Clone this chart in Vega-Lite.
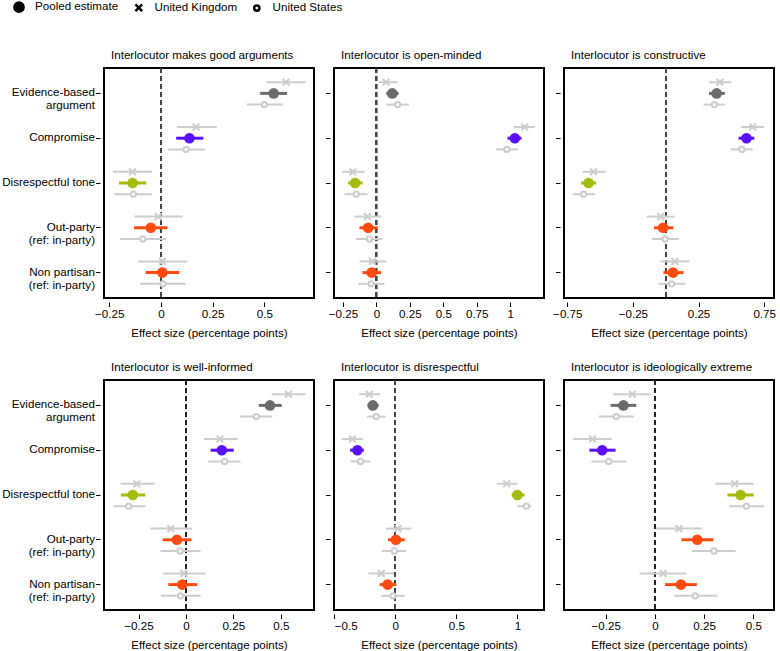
{
  "$schema": "https://vega.github.io/schema/vega-lite/v6.json",
  "padding": {"left": 0, "top": 1, "right": 2, "bottom": 1},
  "background": "white",
  "data": {"name": "effects"},
  "datasets": {
    "effects": [
      {"outcome": "good arguments", "treatment": "Evidence-based argument", "series": "Pooled estimate", "est": 0.545, "lo": 0.48, "hi": 0.61},
      {"outcome": "good arguments", "treatment": "Evidence-based argument", "series": "United Kingdom", "est": 0.605, "lo": 0.51, "hi": 0.70},
      {"outcome": "good arguments", "treatment": "Evidence-based argument", "series": "United States", "est": 0.50, "lo": 0.415, "hi": 0.59},
      {"outcome": "good arguments", "treatment": "Compromise", "series": "Pooled estimate", "est": 0.138, "lo": 0.074, "hi": 0.205},
      {"outcome": "good arguments", "treatment": "Compromise", "series": "United Kingdom", "est": 0.17, "lo": 0.077, "hi": 0.27},
      {"outcome": "good arguments", "treatment": "Compromise", "series": "United States", "est": 0.122, "lo": 0.033, "hi": 0.213},
      {"outcome": "good arguments", "treatment": "Disrespectful tone", "series": "Pooled estimate", "est": -0.137, "lo": -0.202, "hi": -0.071},
      {"outcome": "good arguments", "treatment": "Disrespectful tone", "series": "United Kingdom", "est": -0.137, "lo": -0.232, "hi": -0.042},
      {"outcome": "good arguments", "treatment": "Disrespectful tone", "series": "United States", "est": -0.133, "lo": -0.225, "hi": -0.044},
      {"outcome": "good arguments", "treatment": "Out-party", "series": "Pooled estimate", "est": -0.049, "lo": -0.13, "hi": 0.031},
      {"outcome": "good arguments", "treatment": "Out-party", "series": "United Kingdom", "est": -0.013, "lo": -0.128, "hi": 0.105},
      {"outcome": "good arguments", "treatment": "Out-party", "series": "United States", "est": -0.087, "lo": -0.197, "hi": 0.025},
      {"outcome": "good arguments", "treatment": "Non partisan", "series": "Pooled estimate", "est": 0.007, "lo": -0.074, "hi": 0.089},
      {"outcome": "good arguments", "treatment": "Non partisan", "series": "United Kingdom", "est": 0.007, "lo": -0.109, "hi": 0.127},
      {"outcome": "good arguments", "treatment": "Non partisan", "series": "United States", "est": 0.01, "lo": -0.10, "hi": 0.12},

      {"outcome": "open-minded", "treatment": "Evidence-based argument", "series": "Pooled estimate", "est": 0.119, "lo": 0.074, "hi": 0.166},
      {"outcome": "open-minded", "treatment": "Evidence-based argument", "series": "United Kingdom", "est": 0.072, "lo": 0.017, "hi": 0.156},
      {"outcome": "open-minded", "treatment": "Evidence-based argument", "series": "United States", "est": 0.159, "lo": 0.077, "hi": 0.243},
      {"outcome": "open-minded", "treatment": "Compromise", "series": "Pooled estimate", "est": 1.035, "lo": 0.98, "hi": 1.084},
      {"outcome": "open-minded", "treatment": "Compromise", "series": "United Kingdom", "est": 1.109, "lo": 1.027, "hi": 1.183},
      {"outcome": "open-minded", "treatment": "Compromise", "series": "United States", "est": 0.975, "lo": 0.893, "hi": 1.06},
      {"outcome": "open-minded", "treatment": "Disrespectful tone", "series": "Pooled estimate", "est": -0.159, "lo": -0.211, "hi": -0.104},
      {"outcome": "open-minded", "treatment": "Disrespectful tone", "series": "United Kingdom", "est": -0.176, "lo": -0.256, "hi": -0.089},
      {"outcome": "open-minded", "treatment": "Disrespectful tone", "series": "United States", "est": -0.151, "lo": -0.238, "hi": -0.067},
      {"outcome": "open-minded", "treatment": "Out-party", "series": "Pooled estimate", "est": -0.062, "lo": -0.127, "hi": 0.01},
      {"outcome": "open-minded", "treatment": "Out-party", "series": "United Kingdom", "est": -0.067, "lo": -0.166, "hi": 0.035},
      {"outcome": "open-minded", "treatment": "Out-party", "series": "United States", "est": -0.052, "lo": -0.154, "hi": 0.047},
      {"outcome": "open-minded", "treatment": "Non partisan", "series": "Pooled estimate", "est": -0.035, "lo": -0.104, "hi": 0.035},
      {"outcome": "open-minded", "treatment": "Non partisan", "series": "United Kingdom", "est": -0.03, "lo": -0.127, "hi": 0.074},
      {"outcome": "open-minded", "treatment": "Non partisan", "series": "United States", "est": -0.04, "lo": -0.136, "hi": 0.06},

      {"outcome": "constructive", "treatment": "Evidence-based argument", "series": "Pooled estimate", "est": 0.388, "lo": 0.33, "hi": 0.45},
      {"outcome": "constructive", "treatment": "Evidence-based argument", "series": "United Kingdom", "est": 0.413, "lo": 0.33, "hi": 0.50},
      {"outcome": "constructive", "treatment": "Evidence-based argument", "series": "United States", "est": 0.37, "lo": 0.288, "hi": 0.45},
      {"outcome": "constructive", "treatment": "Compromise", "series": "Pooled estimate", "est": 0.615, "lo": 0.555, "hi": 0.675},
      {"outcome": "constructive", "treatment": "Compromise", "series": "United Kingdom", "est": 0.663, "lo": 0.575, "hi": 0.75},
      {"outcome": "constructive", "treatment": "Compromise", "series": "United States", "est": 0.58, "lo": 0.495, "hi": 0.663},
      {"outcome": "constructive", "treatment": "Disrespectful tone", "series": "Pooled estimate", "est": -0.588, "lo": -0.645, "hi": -0.53},
      {"outcome": "constructive", "treatment": "Disrespectful tone", "series": "United Kingdom", "est": -0.55, "lo": -0.633, "hi": -0.458},
      {"outcome": "constructive", "treatment": "Disrespectful tone", "series": "United States", "est": -0.625, "lo": -0.708, "hi": -0.538},
      {"outcome": "constructive", "treatment": "Out-party", "series": "Pooled estimate", "est": -0.02, "lo": -0.09, "hi": 0.058},
      {"outcome": "constructive", "treatment": "Out-party", "series": "United Kingdom", "est": -0.038, "lo": -0.145, "hi": 0.068},
      {"outcome": "constructive", "treatment": "Out-party", "series": "United States", "est": -0.005, "lo": -0.105, "hi": 0.10},
      {"outcome": "constructive", "treatment": "Non partisan", "series": "Pooled estimate", "est": 0.055, "lo": -0.018, "hi": 0.135},
      {"outcome": "constructive", "treatment": "Non partisan", "series": "United Kingdom", "est": 0.07, "lo": -0.038, "hi": 0.18},
      {"outcome": "constructive", "treatment": "Non partisan", "series": "United States", "est": 0.045, "lo": -0.055, "hi": 0.15},

      {"outcome": "well-informed", "treatment": "Evidence-based argument", "series": "Pooled estimate", "est": 0.443, "lo": 0.384, "hi": 0.505},
      {"outcome": "well-informed", "treatment": "Evidence-based argument", "series": "United Kingdom", "est": 0.54, "lo": 0.452, "hi": 0.63},
      {"outcome": "well-informed", "treatment": "Evidence-based argument", "series": "United States", "est": 0.371, "lo": 0.286, "hi": 0.455},
      {"outcome": "well-informed", "treatment": "Compromise", "series": "Pooled estimate", "est": 0.189, "lo": 0.13, "hi": 0.252},
      {"outcome": "well-informed", "treatment": "Compromise", "series": "United Kingdom", "est": 0.179, "lo": 0.095, "hi": 0.273},
      {"outcome": "well-informed", "treatment": "Compromise", "series": "United States", "est": 0.204, "lo": 0.118, "hi": 0.288},
      {"outcome": "well-informed", "treatment": "Disrespectful tone", "series": "Pooled estimate", "est": -0.28, "lo": -0.343, "hi": -0.214},
      {"outcome": "well-informed", "treatment": "Disrespectful tone", "series": "United Kingdom", "est": -0.259, "lo": -0.345, "hi": -0.164},
      {"outcome": "well-informed", "treatment": "Disrespectful tone", "series": "United States", "est": -0.302, "lo": -0.382, "hi": -0.214},
      {"outcome": "well-informed", "treatment": "Out-party", "series": "Pooled estimate", "est": -0.048, "lo": -0.123, "hi": 0.029},
      {"outcome": "well-informed", "treatment": "Out-party", "series": "United Kingdom", "est": -0.08, "lo": -0.188, "hi": 0.032},
      {"outcome": "well-informed", "treatment": "Out-party", "series": "United States", "est": -0.03, "lo": -0.134, "hi": 0.077},
      {"outcome": "well-informed", "treatment": "Non partisan", "series": "Pooled estimate", "est": -0.02, "lo": -0.093, "hi": 0.059},
      {"outcome": "well-informed", "treatment": "Non partisan", "series": "United Kingdom", "est": -0.011, "lo": -0.12, "hi": 0.102},
      {"outcome": "well-informed", "treatment": "Non partisan", "series": "United States", "est": -0.029, "lo": -0.132, "hi": 0.077},

      {"outcome": "disrespectful", "treatment": "Evidence-based argument", "series": "Pooled estimate", "est": -0.184, "lo": -0.227, "hi": -0.137},
      {"outcome": "disrespectful", "treatment": "Evidence-based argument", "series": "United Kingdom", "est": -0.214, "lo": -0.296, "hi": -0.123},
      {"outcome": "disrespectful", "treatment": "Evidence-based argument", "series": "United States", "est": -0.156, "lo": -0.233, "hi": -0.079},
      {"outcome": "disrespectful", "treatment": "Compromise", "series": "Pooled estimate", "est": -0.31, "lo": -0.37, "hi": -0.258},
      {"outcome": "disrespectful", "treatment": "Compromise", "series": "United Kingdom", "est": -0.351, "lo": -0.438, "hi": -0.266},
      {"outcome": "disrespectful", "treatment": "Compromise", "series": "United States", "est": -0.285, "lo": -0.364, "hi": -0.205},
      {"outcome": "disrespectful", "treatment": "Disrespectful tone", "series": "Pooled estimate", "est": 1.0, "lo": 0.953, "hi": 1.058},
      {"outcome": "disrespectful", "treatment": "Disrespectful tone", "series": "United Kingdom", "est": 0.912, "lo": 0.83, "hi": 1.0},
      {"outcome": "disrespectful", "treatment": "Disrespectful tone", "series": "United States", "est": 1.073, "lo": 1.0, "hi": 1.114},
      {"outcome": "disrespectful", "treatment": "Out-party", "series": "Pooled estimate", "est": 0.005, "lo": -0.06, "hi": 0.077},
      {"outcome": "disrespectful", "treatment": "Out-party", "series": "United Kingdom", "est": 0.022, "lo": -0.077, "hi": 0.132},
      {"outcome": "disrespectful", "treatment": "Out-party", "series": "United States", "est": -0.008, "lo": -0.11, "hi": 0.088},
      {"outcome": "disrespectful", "treatment": "Non partisan", "series": "Pooled estimate", "est": -0.063, "lo": -0.129, "hi": 0.008},
      {"outcome": "disrespectful", "treatment": "Non partisan", "series": "United Kingdom", "est": -0.115, "lo": -0.219, "hi": -0.011},
      {"outcome": "disrespectful", "treatment": "Non partisan", "series": "United States", "est": -0.019, "lo": -0.115, "hi": 0.077},

      {"outcome": "ideologically extreme", "treatment": "Evidence-based argument", "series": "Pooled estimate", "est": -0.16, "lo": -0.225, "hi": -0.095},
      {"outcome": "ideologically extreme", "treatment": "Evidence-based argument", "series": "United Kingdom", "est": -0.115, "lo": -0.212, "hi": -0.02},
      {"outcome": "ideologically extreme", "treatment": "Evidence-based argument", "series": "United States", "est": -0.197, "lo": -0.285, "hi": -0.107},
      {"outcome": "ideologically extreme", "treatment": "Compromise", "series": "Pooled estimate", "est": -0.268, "lo": -0.333, "hi": -0.2},
      {"outcome": "ideologically extreme", "treatment": "Compromise", "series": "United Kingdom", "est": -0.317, "lo": -0.415, "hi": -0.22},
      {"outcome": "ideologically extreme", "treatment": "Compromise", "series": "United States", "est": -0.235, "lo": -0.323, "hi": -0.145},
      {"outcome": "ideologically extreme", "treatment": "Disrespectful tone", "series": "Pooled estimate", "est": 0.435, "lo": 0.368, "hi": 0.502},
      {"outcome": "ideologically extreme", "treatment": "Disrespectful tone", "series": "United Kingdom", "est": 0.405, "lo": 0.308, "hi": 0.502},
      {"outcome": "ideologically extreme", "treatment": "Disrespectful tone", "series": "United States", "est": 0.465, "lo": 0.377, "hi": 0.555},
      {"outcome": "ideologically extreme", "treatment": "Out-party", "series": "Pooled estimate", "est": 0.215, "lo": 0.135, "hi": 0.297},
      {"outcome": "ideologically extreme", "treatment": "Out-party", "series": "United Kingdom", "est": 0.122, "lo": 0.005, "hi": 0.238},
      {"outcome": "ideologically extreme", "treatment": "Out-party", "series": "United States", "est": 0.30, "lo": 0.188, "hi": 0.41},
      {"outcome": "ideologically extreme", "treatment": "Non partisan", "series": "Pooled estimate", "est": 0.132, "lo": 0.052, "hi": 0.213},
      {"outcome": "ideologically extreme", "treatment": "Non partisan", "series": "United Kingdom", "est": 0.042, "lo": -0.078, "hi": 0.16},
      {"outcome": "ideologically extreme", "treatment": "Non partisan", "series": "United States", "est": 0.205, "lo": 0.097, "hi": 0.317}
    ]
  },
  "columns": 3,
  "bounds": "flush",
  "spacing": {"row": 82, "column": 20},
  "concat": [
    {
      "width": 210, "height": 230,
      "title": "Interlocutor makes good arguments",
      "transform": [{"filter": "datum.outcome === 'good arguments'"}],
      "layer": [
        {"mark": {"type": "rule", "strokeDash": [5, 3], "color": "#444444", "strokeWidth": 1.3},
         "encoding": {"x": {"datum": 0, "type": "quantitative", "scale": {"domain": [-0.275, 0.74], "nice": false, "zero": false},
           "axis": {"title": "Effect size (percentage points)", "values": [-0.25, 0, 0.25, 0.5], "format": ".2~f"}}}},
        {"mark": {"type": "point", "filled": false, "opacity": 0, "strokeWidth": 2.5},
         "encoding": {"x": {"field": "est", "type": "quantitative"},
           "y": {"field": "treatment", "type": "nominal", "sort": ["Evidence-based argument", "Compromise", "Disrespectful tone", "Out-party", "Non partisan"], "scale": {"paddingInner": 0, "paddingOuter": 0.067},
             "axis": {"title": null, "labelExpr": "datum.value === 'Evidence-based argument' ? ['Evidence-based', 'argument'] : datum.value === 'Out-party' ? ['Out-party', '(ref: in-party)'] : datum.value === 'Non partisan' ? ['Non partisan', '(ref: in-party)'] : datum.label"}},
           "yOffset": {"field": "series", "type": "nominal", "scale": {"type": "point", "padding": 2, "domain": ["United Kingdom", "Pooled estimate", "United States"]}},
           "shape": {"field": "series", "type": "nominal",
             "scale": {"domain": ["Pooled estimate", "United Kingdom", "United States"],
               "range": ["M1,0A1,1 0 1,1 -1,0A1,1 0 1,1 1,0M0.75,0A0.75,0.75 0 1,1 -0.75,0A0.75,0.75 0 1,1 0.75,0M0.5,0A0.5,0.5 0 1,1 -0.5,0A0.5,0.5 0 1,1 0.5,0M0.25,0A0.25,0.25 0 1,1 -0.25,0A0.25,0.25 0 1,1 0.25,0", "M-1,-1L1,1M-1,1L1,-1", "circle"]},
             "legend": {"title": null, "orient": "none", "legendX": -91, "legendY": -67, "direction": "horizontal", "labelFontSize": 11.6, "labelOffset": 10, "columnPadding": 11, "symbolOpacity": 1, "symbolStrokeWidth": 2.5}},
           "size": {"field": "series", "type": "nominal", "scale": {"type": "ordinal", "domain": ["Pooled estimate", "United Kingdom", "United States"], "range": [85, 45, 28]}},
           "stroke": {"field": "series", "type": "nominal", "scale": {"domain": ["Pooled estimate", "United Kingdom", "United States"], "range": ["#000000", "#000000", "#000000"]}}}},
        {"transform": [{"filter": "datum.series !== 'Pooled estimate'"}],
         "mark": {"type": "rule", "color": "#cccccc", "strokeWidth": 2},
         "encoding": {"x": {"field": "lo", "type": "quantitative"}, "x2": {"field": "hi"},
           "y": {"field": "treatment", "type": "nominal", "sort": ["Evidence-based argument", "Compromise", "Disrespectful tone", "Out-party", "Non partisan"]},
           "yOffset": {"field": "series", "type": "nominal"}}},
        {"transform": [{"filter": "datum.series === 'United Kingdom'"}],
         "mark": {"type": "point", "shape": "M-1,-1L1,1M-1,1L1,-1", "size": 45, "filled": false, "stroke": "#cccccc", "strokeWidth": 2, "opacity": 1},
         "encoding": {"x": {"field": "est", "type": "quantitative"},
           "y": {"field": "treatment", "type": "nominal", "sort": ["Evidence-based argument", "Compromise", "Disrespectful tone", "Out-party", "Non partisan"]},
           "yOffset": {"field": "series", "type": "nominal"}}},
        {"transform": [{"filter": "datum.series === 'United States'"}],
         "mark": {"type": "point", "shape": "circle", "size": 28, "filled": true, "fill": "#ffffff", "stroke": "#cccccc", "strokeWidth": 2, "opacity": 1},
         "encoding": {"x": {"field": "est", "type": "quantitative"},
           "y": {"field": "treatment", "type": "nominal", "sort": ["Evidence-based argument", "Compromise", "Disrespectful tone", "Out-party", "Non partisan"]},
           "yOffset": {"field": "series", "type": "nominal"}}},
        {"transform": [{"filter": "datum.series === 'Pooled estimate'"}],
         "mark": {"type": "rule", "strokeWidth": 3},
         "encoding": {"x": {"field": "lo", "type": "quantitative"}, "x2": {"field": "hi"},
           "y": {"field": "treatment", "type": "nominal", "sort": ["Evidence-based argument", "Compromise", "Disrespectful tone", "Out-party", "Non partisan"]},
           "yOffset": {"field": "series", "type": "nominal"},
           "color": {"field": "treatment", "type": "nominal", "scale": {"domain": ["Evidence-based argument", "Compromise", "Disrespectful tone", "Out-party", "Non partisan"], "range": ["#6b6b6b", "#5a0fff", "#a4ba0c", "#ff4a10", "#ff4a10"]}, "legend": null}}},
        {"transform": [{"filter": "datum.series === 'Pooled estimate'"}],
         "mark": {"type": "point", "shape": "circle", "size": 113, "filled": true, "opacity": 1, "strokeWidth": 0},
         "encoding": {"x": {"field": "est", "type": "quantitative"},
           "y": {"field": "treatment", "type": "nominal", "sort": ["Evidence-based argument", "Compromise", "Disrespectful tone", "Out-party", "Non partisan"]},
           "yOffset": {"field": "series", "type": "nominal"},
           "color": {"field": "treatment", "type": "nominal", "legend": null}}}
      ]
    },
    {
      "width": 210, "height": 230,
      "title": "Interlocutor is open-minded",
      "transform": [{"filter": "datum.outcome === 'open-minded'"}],
      "layer": [
        {"mark": {"type": "rule", "strokeDash": [5, 3], "color": "#444444", "strokeWidth": 1.3},
         "encoding": {"x": {"datum": 0, "type": "quantitative", "scale": {"domain": [-0.317, 1.253], "nice": false, "zero": false},
           "axis": {"title": "Effect size (percentage points)", "values": [-0.25, 0, 0.25, 0.5, 0.75, 1], "format": ".2~f"}}}},
        {"transform": [{"filter": "datum.series !== 'Pooled estimate'"}],
         "mark": {"type": "rule", "color": "#cccccc", "strokeWidth": 2},
         "encoding": {"x": {"field": "lo", "type": "quantitative"}, "x2": {"field": "hi"},
           "y": {"field": "treatment", "type": "nominal", "sort": ["Evidence-based argument", "Compromise", "Disrespectful tone", "Out-party", "Non partisan"], "scale": {"paddingInner": 0, "paddingOuter": 0.067}, "axis": {"title": null, "labels": false}},
           "yOffset": {"field": "series", "type": "nominal", "scale": {"type": "point", "padding": 2, "domain": ["United Kingdom", "Pooled estimate", "United States"]}}}},
        {"transform": [{"filter": "datum.series === 'United Kingdom'"}],
         "mark": {"type": "point", "shape": "M-1,-1L1,1M-1,1L1,-1", "size": 45, "filled": false, "stroke": "#cccccc", "strokeWidth": 2, "opacity": 1},
         "encoding": {"x": {"field": "est", "type": "quantitative"},
           "y": {"field": "treatment", "type": "nominal", "sort": ["Evidence-based argument", "Compromise", "Disrespectful tone", "Out-party", "Non partisan"]},
           "yOffset": {"field": "series", "type": "nominal"}}},
        {"transform": [{"filter": "datum.series === 'United States'"}],
         "mark": {"type": "point", "shape": "circle", "size": 28, "filled": true, "fill": "#ffffff", "stroke": "#cccccc", "strokeWidth": 2, "opacity": 1},
         "encoding": {"x": {"field": "est", "type": "quantitative"},
           "y": {"field": "treatment", "type": "nominal", "sort": ["Evidence-based argument", "Compromise", "Disrespectful tone", "Out-party", "Non partisan"]},
           "yOffset": {"field": "series", "type": "nominal"}}},
        {"transform": [{"filter": "datum.series === 'Pooled estimate'"}],
         "mark": {"type": "rule", "strokeWidth": 3},
         "encoding": {"x": {"field": "lo", "type": "quantitative"}, "x2": {"field": "hi"},
           "y": {"field": "treatment", "type": "nominal", "sort": ["Evidence-based argument", "Compromise", "Disrespectful tone", "Out-party", "Non partisan"]},
           "yOffset": {"field": "series", "type": "nominal"},
           "color": {"field": "treatment", "type": "nominal", "legend": null}}},
        {"transform": [{"filter": "datum.series === 'Pooled estimate'"}],
         "mark": {"type": "point", "shape": "circle", "size": 113, "filled": true, "opacity": 1, "strokeWidth": 0},
         "encoding": {"x": {"field": "est", "type": "quantitative"},
           "y": {"field": "treatment", "type": "nominal", "sort": ["Evidence-based argument", "Compromise", "Disrespectful tone", "Out-party", "Non partisan"]},
           "yOffset": {"field": "series", "type": "nominal"},
           "color": {"field": "treatment", "type": "nominal", "legend": null}}}
      ]
    },
    {
      "width": 210, "height": 230,
      "title": "Interlocutor is constructive",
      "transform": [{"filter": "datum.outcome === 'constructive'"}],
      "layer": [
        {"mark": {"type": "rule", "strokeDash": [5, 3], "color": "#444444", "strokeWidth": 1.3},
         "encoding": {"x": {"datum": 0, "type": "quantitative", "scale": {"domain": [-0.775, 0.825], "nice": false, "zero": false},
           "axis": {"title": "Effect size (percentage points)", "values": [-0.75, -0.5, -0.25, 0, 0.25, 0.5, 0.75], "format": ".2~f"}}}},
        {"transform": [{"filter": "datum.series !== 'Pooled estimate'"}],
         "mark": {"type": "rule", "color": "#cccccc", "strokeWidth": 2},
         "encoding": {"x": {"field": "lo", "type": "quantitative"}, "x2": {"field": "hi"},
           "y": {"field": "treatment", "type": "nominal", "sort": ["Evidence-based argument", "Compromise", "Disrespectful tone", "Out-party", "Non partisan"], "scale": {"paddingInner": 0, "paddingOuter": 0.067}, "axis": {"title": null, "labels": false}},
           "yOffset": {"field": "series", "type": "nominal", "scale": {"type": "point", "padding": 2, "domain": ["United Kingdom", "Pooled estimate", "United States"]}}}},
        {"transform": [{"filter": "datum.series === 'United Kingdom'"}],
         "mark": {"type": "point", "shape": "M-1,-1L1,1M-1,1L1,-1", "size": 45, "filled": false, "stroke": "#cccccc", "strokeWidth": 2, "opacity": 1},
         "encoding": {"x": {"field": "est", "type": "quantitative"},
           "y": {"field": "treatment", "type": "nominal", "sort": ["Evidence-based argument", "Compromise", "Disrespectful tone", "Out-party", "Non partisan"]},
           "yOffset": {"field": "series", "type": "nominal"}}},
        {"transform": [{"filter": "datum.series === 'United States'"}],
         "mark": {"type": "point", "shape": "circle", "size": 28, "filled": true, "fill": "#ffffff", "stroke": "#cccccc", "strokeWidth": 2, "opacity": 1},
         "encoding": {"x": {"field": "est", "type": "quantitative"},
           "y": {"field": "treatment", "type": "nominal", "sort": ["Evidence-based argument", "Compromise", "Disrespectful tone", "Out-party", "Non partisan"]},
           "yOffset": {"field": "series", "type": "nominal"}}},
        {"transform": [{"filter": "datum.series === 'Pooled estimate'"}],
         "mark": {"type": "rule", "strokeWidth": 3},
         "encoding": {"x": {"field": "lo", "type": "quantitative"}, "x2": {"field": "hi"},
           "y": {"field": "treatment", "type": "nominal", "sort": ["Evidence-based argument", "Compromise", "Disrespectful tone", "Out-party", "Non partisan"]},
           "yOffset": {"field": "series", "type": "nominal"},
           "color": {"field": "treatment", "type": "nominal", "legend": null}}},
        {"transform": [{"filter": "datum.series === 'Pooled estimate'"}],
         "mark": {"type": "point", "shape": "circle", "size": 113, "filled": true, "opacity": 1, "strokeWidth": 0},
         "encoding": {"x": {"field": "est", "type": "quantitative"},
           "y": {"field": "treatment", "type": "nominal", "sort": ["Evidence-based argument", "Compromise", "Disrespectful tone", "Out-party", "Non partisan"]},
           "yOffset": {"field": "series", "type": "nominal"},
           "color": {"field": "treatment", "type": "nominal", "legend": null}}}
      ]
    },
    {
      "width": 210, "height": 230,
      "title": "Interlocutor is well-informed",
      "transform": [{"filter": "datum.outcome === 'well-informed'"}],
      "layer": [
        {"mark": {"type": "rule", "strokeDash": [5, 3], "color": "#222222", "strokeWidth": 1.2},
         "encoding": {"x": {"datum": 0, "type": "quantitative", "scale": {"domain": [-0.432, 0.675], "nice": false, "zero": false},
           "axis": {"title": "Effect size (percentage points)", "values": [-0.25, 0, 0.25, 0.5], "format": ".2~f"}}}},
        {"transform": [{"filter": "datum.series !== 'Pooled estimate'"}],
         "mark": {"type": "rule", "color": "#cccccc", "strokeWidth": 2},
         "encoding": {"x": {"field": "lo", "type": "quantitative"}, "x2": {"field": "hi"},
           "y": {"field": "treatment", "type": "nominal", "sort": ["Evidence-based argument", "Compromise", "Disrespectful tone", "Out-party", "Non partisan"], "scale": {"paddingInner": 0, "paddingOuter": 0.067},
             "axis": {"title": null, "labelExpr": "datum.value === 'Evidence-based argument' ? ['Evidence-based', 'argument'] : datum.value === 'Out-party' ? ['Out-party', '(ref: in-party)'] : datum.value === 'Non partisan' ? ['Non partisan', '(ref: in-party)'] : datum.label"}},
           "yOffset": {"field": "series", "type": "nominal", "scale": {"type": "point", "padding": 2, "domain": ["United Kingdom", "Pooled estimate", "United States"]}}}},
        {"transform": [{"filter": "datum.series === 'United Kingdom'"}],
         "mark": {"type": "point", "shape": "M-1,-1L1,1M-1,1L1,-1", "size": 45, "filled": false, "stroke": "#cccccc", "strokeWidth": 2, "opacity": 1},
         "encoding": {"x": {"field": "est", "type": "quantitative"},
           "y": {"field": "treatment", "type": "nominal", "sort": ["Evidence-based argument", "Compromise", "Disrespectful tone", "Out-party", "Non partisan"]},
           "yOffset": {"field": "series", "type": "nominal"}}},
        {"transform": [{"filter": "datum.series === 'United States'"}],
         "mark": {"type": "point", "shape": "circle", "size": 28, "filled": true, "fill": "#ffffff", "stroke": "#cccccc", "strokeWidth": 2, "opacity": 1},
         "encoding": {"x": {"field": "est", "type": "quantitative"},
           "y": {"field": "treatment", "type": "nominal", "sort": ["Evidence-based argument", "Compromise", "Disrespectful tone", "Out-party", "Non partisan"]},
           "yOffset": {"field": "series", "type": "nominal"}}},
        {"transform": [{"filter": "datum.series === 'Pooled estimate'"}],
         "mark": {"type": "rule", "strokeWidth": 3},
         "encoding": {"x": {"field": "lo", "type": "quantitative"}, "x2": {"field": "hi"},
           "y": {"field": "treatment", "type": "nominal", "sort": ["Evidence-based argument", "Compromise", "Disrespectful tone", "Out-party", "Non partisan"]},
           "yOffset": {"field": "series", "type": "nominal"},
           "color": {"field": "treatment", "type": "nominal", "legend": null}}},
        {"transform": [{"filter": "datum.series === 'Pooled estimate'"}],
         "mark": {"type": "point", "shape": "circle", "size": 113, "filled": true, "opacity": 1, "strokeWidth": 0},
         "encoding": {"x": {"field": "est", "type": "quantitative"},
           "y": {"field": "treatment", "type": "nominal", "sort": ["Evidence-based argument", "Compromise", "Disrespectful tone", "Out-party", "Non partisan"]},
           "yOffset": {"field": "series", "type": "nominal"},
           "color": {"field": "treatment", "type": "nominal", "legend": null}}}
      ]
    },
    {
      "width": 210, "height": 230,
      "title": "Interlocutor is disrespectful",
      "transform": [{"filter": "datum.outcome === 'disrespectful'"}],
      "layer": [
        {"mark": {"type": "rule", "strokeDash": [5, 3], "color": "#444444", "strokeWidth": 1.3},
         "encoding": {"x": {"datum": 0, "type": "quantitative", "scale": {"domain": [-0.502, 1.218], "nice": false, "zero": false},
           "axis": {"title": "Effect size (percentage points)", "values": [-0.5, -0.25, 0, 0.25, 0.5, 0.75, 1], "format": ".2~f"}}}},
        {"transform": [{"filter": "datum.series !== 'Pooled estimate'"}],
         "mark": {"type": "rule", "color": "#cccccc", "strokeWidth": 2},
         "encoding": {"x": {"field": "lo", "type": "quantitative"}, "x2": {"field": "hi"},
           "y": {"field": "treatment", "type": "nominal", "sort": ["Evidence-based argument", "Compromise", "Disrespectful tone", "Out-party", "Non partisan"], "scale": {"paddingInner": 0, "paddingOuter": 0.067}, "axis": {"title": null, "labels": false}},
           "yOffset": {"field": "series", "type": "nominal", "scale": {"type": "point", "padding": 2, "domain": ["United Kingdom", "Pooled estimate", "United States"]}}}},
        {"transform": [{"filter": "datum.series === 'United Kingdom'"}],
         "mark": {"type": "point", "shape": "M-1,-1L1,1M-1,1L1,-1", "size": 45, "filled": false, "stroke": "#cccccc", "strokeWidth": 2, "opacity": 1},
         "encoding": {"x": {"field": "est", "type": "quantitative"},
           "y": {"field": "treatment", "type": "nominal", "sort": ["Evidence-based argument", "Compromise", "Disrespectful tone", "Out-party", "Non partisan"]},
           "yOffset": {"field": "series", "type": "nominal"}}},
        {"transform": [{"filter": "datum.series === 'United States'"}],
         "mark": {"type": "point", "shape": "circle", "size": 28, "filled": true, "fill": "#ffffff", "stroke": "#cccccc", "strokeWidth": 2, "opacity": 1},
         "encoding": {"x": {"field": "est", "type": "quantitative"},
           "y": {"field": "treatment", "type": "nominal", "sort": ["Evidence-based argument", "Compromise", "Disrespectful tone", "Out-party", "Non partisan"]},
           "yOffset": {"field": "series", "type": "nominal"}}},
        {"transform": [{"filter": "datum.series === 'Pooled estimate'"}],
         "mark": {"type": "rule", "strokeWidth": 3},
         "encoding": {"x": {"field": "lo", "type": "quantitative"}, "x2": {"field": "hi"},
           "y": {"field": "treatment", "type": "nominal", "sort": ["Evidence-based argument", "Compromise", "Disrespectful tone", "Out-party", "Non partisan"]},
           "yOffset": {"field": "series", "type": "nominal"},
           "color": {"field": "treatment", "type": "nominal", "legend": null}}},
        {"transform": [{"filter": "datum.series === 'Pooled estimate'"}],
         "mark": {"type": "point", "shape": "circle", "size": 113, "filled": true, "opacity": 1, "strokeWidth": 0},
         "encoding": {"x": {"field": "est", "type": "quantitative"},
           "y": {"field": "treatment", "type": "nominal", "sort": ["Evidence-based argument", "Compromise", "Disrespectful tone", "Out-party", "Non partisan"]},
           "yOffset": {"field": "series", "type": "nominal"},
           "color": {"field": "treatment", "type": "nominal", "legend": null}}}
      ]
    },
    {
      "width": 210, "height": 230,
      "title": "Interlocutor is ideologically extreme",
      "transform": [{"filter": "datum.outcome === 'ideologically extreme'"}],
      "layer": [
        {"mark": {"type": "rule", "strokeDash": [5, 3], "color": "#222222", "strokeWidth": 1.2},
         "encoding": {"x": {"datum": 0, "type": "quantitative", "scale": {"domain": [-0.462, 0.605], "nice": false, "zero": false},
           "axis": {"title": "Effect size (percentage points)", "values": [-0.25, 0, 0.25, 0.5], "format": ".2~f"}}}},
        {"transform": [{"filter": "datum.series !== 'Pooled estimate'"}],
         "mark": {"type": "rule", "color": "#cccccc", "strokeWidth": 2},
         "encoding": {"x": {"field": "lo", "type": "quantitative"}, "x2": {"field": "hi"},
           "y": {"field": "treatment", "type": "nominal", "sort": ["Evidence-based argument", "Compromise", "Disrespectful tone", "Out-party", "Non partisan"], "scale": {"paddingInner": 0, "paddingOuter": 0.067}, "axis": {"title": null, "labels": false}},
           "yOffset": {"field": "series", "type": "nominal", "scale": {"type": "point", "padding": 2, "domain": ["United Kingdom", "Pooled estimate", "United States"]}}}},
        {"transform": [{"filter": "datum.series === 'United Kingdom'"}],
         "mark": {"type": "point", "shape": "M-1,-1L1,1M-1,1L1,-1", "size": 45, "filled": false, "stroke": "#cccccc", "strokeWidth": 2, "opacity": 1},
         "encoding": {"x": {"field": "est", "type": "quantitative"},
           "y": {"field": "treatment", "type": "nominal", "sort": ["Evidence-based argument", "Compromise", "Disrespectful tone", "Out-party", "Non partisan"]},
           "yOffset": {"field": "series", "type": "nominal"}}},
        {"transform": [{"filter": "datum.series === 'United States'"}],
         "mark": {"type": "point", "shape": "circle", "size": 28, "filled": true, "fill": "#ffffff", "stroke": "#cccccc", "strokeWidth": 2, "opacity": 1},
         "encoding": {"x": {"field": "est", "type": "quantitative"},
           "y": {"field": "treatment", "type": "nominal", "sort": ["Evidence-based argument", "Compromise", "Disrespectful tone", "Out-party", "Non partisan"]},
           "yOffset": {"field": "series", "type": "nominal"}}},
        {"transform": [{"filter": "datum.series === 'Pooled estimate'"}],
         "mark": {"type": "rule", "strokeWidth": 3},
         "encoding": {"x": {"field": "lo", "type": "quantitative"}, "x2": {"field": "hi"},
           "y": {"field": "treatment", "type": "nominal", "sort": ["Evidence-based argument", "Compromise", "Disrespectful tone", "Out-party", "Non partisan"]},
           "yOffset": {"field": "series", "type": "nominal"},
           "color": {"field": "treatment", "type": "nominal", "legend": null}}},
        {"transform": [{"filter": "datum.series === 'Pooled estimate'"}],
         "mark": {"type": "point", "shape": "circle", "size": 113, "filled": true, "opacity": 1, "strokeWidth": 0},
         "encoding": {"x": {"field": "est", "type": "quantitative"},
           "y": {"field": "treatment", "type": "nominal", "sort": ["Evidence-based argument", "Compromise", "Disrespectful tone", "Out-party", "Non partisan"]},
           "yOffset": {"field": "series", "type": "nominal"},
           "color": {"field": "treatment", "type": "nominal", "legend": null}}}
      ]
    }
  ],
  "config": {
    "font": "Liberation Sans",
    "view": {"stroke": "black", "strokeWidth": 2},
    "axis": {"domain": false, "grid": false, "offset": 4, "tickSize": 4.5, "tickColor": "black", "tickWidth": 1, "labelFontSize": 11.6, "labelColor": "black", "labelPadding": 1, "titleFontSize": 11.6, "titleFontWeight": "normal", "titleColor": "black", "titlePadding": 7, "labelLineHeight": 13},
    "axisX": {"labelPadding": 2},
    "title": {"anchor": "start", "frame": "group", "fontSize": 11.6, "fontWeight": "normal", "color": "black", "dx": 7, "offset": 6},
    "legend": {"labelColor": "black", "labelFont": "Liberation Sans"}
  }
}
